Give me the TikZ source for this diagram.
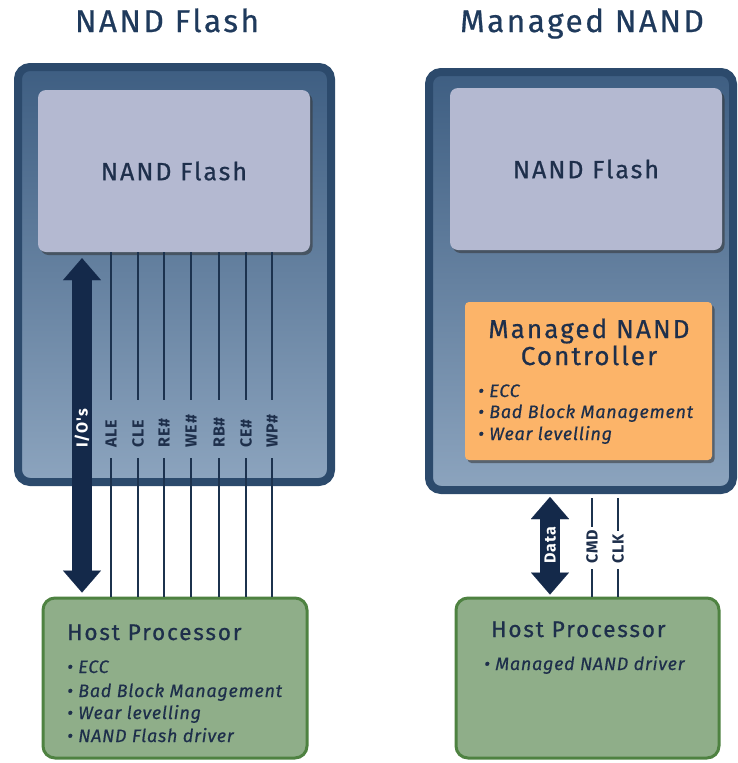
\documentclass[tikz,border=0pt]{standalone}
\usepackage{fontspec}
\setmainfont{Fira Sans}
\newfontfamily\spaced[LetterSpace=8, FakeBold=0.6]{Fira Sans}
\newfontfamily\bulfont[LetterSpace=4, FakeBold=0.5]{Fira Sans}
\newfontfamily\labfont[LetterSpace=6]{Fira Sans}
\usetikzlibrary{arrows.meta,shadows,calc}
\definecolor{navy}{HTML}{2C4A6C}
\definecolor{navyedge}{HTML}{1C324E}
\definecolor{bgtop}{HTML}{3E5E82}
\definecolor{bgbot}{HTML}{8CA4BE}
\definecolor{flashfill}{HTML}{B4B9D1}
\definecolor{ctrlfill}{HTML}{FCB469}
\definecolor{hostfill}{HTML}{8FAE89}
\definecolor{hostedge}{HTML}{4E8241}
\definecolor{inktext}{HTML}{1E2F4B}
\definecolor{titletext}{HTML}{1F3A5C}
\definecolor{arrowcol}{HTML}{14294A}
\tikzset{
  outerbox/.style={draw=navy, line width=8pt, rounded corners=12pt, top color=bgtop, bottom color=bgbot, inner sep=0pt},
  flashbox/.style={fill=flashfill, rounded corners=8pt, inner sep=0pt, text=inktext,
     font=\spaced\fontsize{25}{28}\selectfont,
     drop shadow={shadow xshift=2.5pt, shadow yshift=-3pt, opacity=0.55, fill=black!80}},
  ctrlbox/.style={fill=ctrlfill, rounded corners=4pt, inner sep=0pt,
     drop shadow={shadow xshift=2.5pt, shadow yshift=-3pt, opacity=0.55, fill=black!80}},
  hostbox/.style={fill=hostfill, draw=hostedge, line width=3pt, rounded corners=12pt, inner sep=0pt},
  titletxt/.style={text=titletext, font=\spaced\fontsize{31.5}{34}\selectfont, inner sep=0pt},
  ctrltitle/.style={text=inktext, font=\spaced\fontsize{26}{29}\selectfont, inner sep=0pt},
  hosttitle/.style={text=inktext, font=\spaced\fontsize{22.6}{26}\selectfont, inner sep=0pt},
  bullet/.style={text=inktext, font=\bulfont\itshape\fontsize{18}{21}\selectfont, inner sep=0pt, anchor=base west},
  siglabel/.style={rotate=90, anchor=west, inner sep=0pt, text=inktext, font=\labfont\bfseries\fontsize{16}{18}\selectfont, text height=11pt, text depth=0pt},
  arrlabel/.style={rotate=90, anchor=west, inner sep=0pt, text=white, font=\labfont\bfseries\fontsize{16}{18}\selectfont, text height=11pt, text depth=0pt},
  sig/.style={draw=navyedge, line width=1.3pt},
  bigarrow/.style={draw=arrowcol, line width=20pt,
     {Triangle[width=38pt,length=22pt,line width=0.01pt]}-{Triangle[width=38pt,length=22pt,line width=0.01pt]}}
}
\begin{document}
\begin{tikzpicture}[x=1pt,y=-1pt]
\useasboundingbox[fill=white] (0,0) rectangle (738,763);

% titles
\node[titletxt, anchor=base] (t1) at (167,32) {NAND Flash};
\node[titletxt, anchor=base] (t2) at (582,32) {Managed NAND};

% outer boxes
\node[outerbox, minimum width=313pt, minimum height=415pt] (oL) at (174.5,274.5) {};
\node[outerbox, minimum width=304pt, minimum height=418pt] (oR) at (581,281) {};

% inner flash boxes
\node[flashbox, minimum width=272pt, minimum height=162pt] (fL) at (174,171) {NAND Flash};
\node[flashbox, minimum width=272pt, minimum height=162pt] (fR) at (586,169) {NAND Flash};

% controller
\node[ctrlbox, minimum width=247pt, minimum height=158pt] (ctl) at (588.5,381) {};
\node[ctrltitle, anchor=base] (ct1) at (589,338) {Managed NAND};
\node[ctrltitle, anchor=base] (ct2) at (589,365) {Controller};
\node[bullet] (cb1) at (478,397) {• ECC};
\node[bullet] (cb2) at (478,418) {• Bad Block Management};
\node[bullet] (cb3) at (478,440) {• Wear levelling};

% host boxes
\node[hostbox, minimum width=264pt, minimum height=160pt] (hL) at (175,678) {};
\node[hostbox, minimum width=263pt, minimum height=160pt] (hR) at (587.5,678) {};
\node[hosttitle, anchor=base west] (hLt) at (67,640) {Host Processor};
\node[bullet] (hb1) at (67,673) {• ECC};
\node[bullet] (hb2) at (67,697) {• Bad Block Management};
\node[bullet] (hb3) at (67,719) {• Wear levelling};
\node[bullet] (hb4) at (67,742) {• NAND Flash driver};
\node[hosttitle, anchor=base west] (hRt) at (491,637) {Host Processor};
\node[bullet] (hb5) at (484,670) {• Managed NAND driver};

% left signal lines
\foreach \nm/\xx/\txt in {s1/111/ALE, s2/138/CLE, s3/164/RE\#, s4/191/WE\#, s5/219/RB\#, s6/246/CE\#, s7/272/WP\#}{
  \node[siglabel] (\nm) at (\xx,448) {\txt};
  \draw[sig] (fL.south -| \nm.west) -- ($(\nm.west)+(0,-48)$);
  \draw[sig] ($(\nm.west)+(0,10)$) -- (hL.north -| \nm.west);
}

% I/O arrow
\coordinate (iox) at (82,448);
\draw[bigarrow] ($(fL.south -| iox)+(0,6)$) -- ($(hL.north -| iox)+(0,-4)$);
\node[arrlabel] (io) at (82,448) {I/O's};

% right signal lines
\node[siglabel] (cmd) at (592,564) {CMD};
\node[siglabel] (clk) at (618,564) {CLK};
\draw[sig] ($(oR.south -| cmd.west)+(0,4)$) -- ($(cmd.east)+(0,-3)$);
\draw[sig] ($(cmd.west)+(0,5)$) -- (hR.north -| cmd.west);
\draw[sig] ($(oR.south -| clk.west)+(0,4)$) -- ($(clk.east)+(0,-3)$);
\draw[sig] ($(clk.west)+(0,5)$) -- (hR.north -| clk.west);

% data arrow
\coordinate (dx) at (550,560);
\draw[bigarrow] ($(oR.south -| dx)+(0,3)$) -- ($(hR.north -| dx)+(0,-2)$);
\node[arrlabel] (data) at (550,564) {Data};
\end{tikzpicture}
\end{document}
